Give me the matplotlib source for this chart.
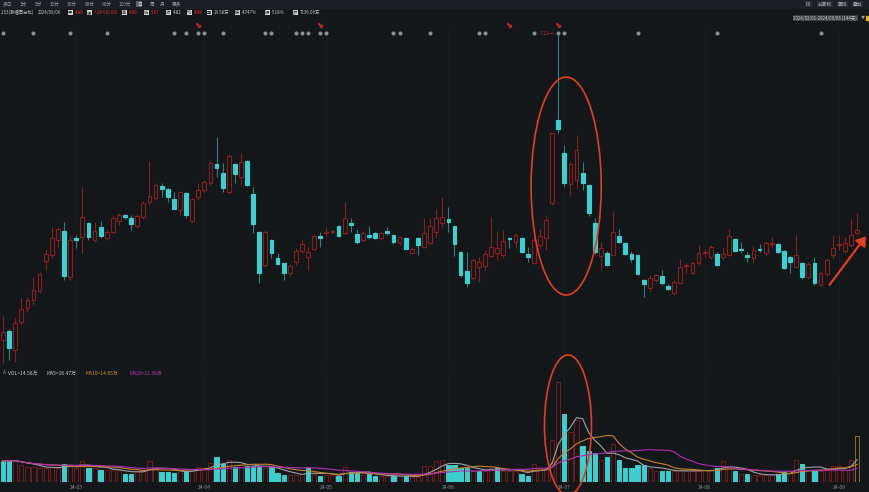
import matplotlib
matplotlib.use("Agg")
import matplotlib.pyplot as plt
from matplotlib.patches import Ellipse, FancyArrowPatch
import numpy as np
import pandas as pd

plt.rcParams['font.family'] = ['Noto Sans CJK SC', 'DejaVu Sans']

# daily candles (2024/02 - 2024/09)
opens = [4.10, 4.19, 4.00, 4.28, 4.42, 4.50, 4.59, 4.89, 4.95, 5.10,
         5.19, 4.73, 5.12, 5.13, 5.27, 5.10, 5.23, 5.12, 5.18, 5.29,
         5.35, 5.32, 5.24, 5.33, 5.48, 5.52, 5.64, 5.61, 5.51, 5.40,
         5.57, 5.29, 5.53, 5.60, 5.67, 5.86, 5.77, 5.58, 5.86, 5.73,
         5.89, 5.56, 5.18, 4.85, 5.10, 4.92, 4.87, 4.77, 4.88, 4.99,
         4.93, 5.01, 5.14, 5.17, 5.18, 5.24, 5.17, 5.27, 5.16, 5.10,
         5.15, 5.17, 5.12, 5.19, 5.15, 5.07, 5.12, 4.97, 5.12, 5.03,
         5.07, 5.18, 5.27, 5.31, 5.24, 4.98, 4.79, 4.72, 4.83, 4.84,
         4.94, 4.97, 4.95, 5.12, 5.08, 5.12, 4.96, 4.87, 5.05, 5.12,
         5.47, 6.30, 5.97, 5.66, 5.70, 5.77, 5.65, 5.27, 4.94, 4.97,
         4.95, 5.14, 5.07, 4.96, 4.95, 4.70, 4.62, 4.70, 4.74, 4.64,
         4.57, 4.67, 4.84, 4.77, 4.87, 4.97, 4.93, 4.96, 4.93, 4.95,
         5.11, 5.01, 4.95, 4.92, 5.01, 4.97, 5.06, 5.06, 4.99, 4.93,
         4.83, 4.87, 4.73, 4.87, 4.65, 4.76, 4.95, 5.05, 4.99, 5.05,
         5.17]
highs = [4.34, 4.21, 4.32, 4.52, 4.53, 4.73, 4.78, 5.01, 5.23, 5.23,
         5.28, 5.14, 5.15, 5.63, 5.28, 5.28, 5.29, 5.20, 5.34, 5.37,
         5.36, 5.35, 5.36, 5.49, 5.89, 5.67, 5.67, 5.62, 5.58, 5.59,
         5.58, 5.52, 5.67, 5.70, 5.90, 6.13, 5.87, 5.96, 5.87, 5.97,
         5.90, 5.63, 5.19, 5.20, 5.11, 4.97, 4.87, 4.86, 5.02, 5.10,
         5.03, 5.16, 5.18, 5.22, 5.20, 5.25, 5.48, 5.32, 5.21, 5.19,
         5.24, 5.18, 5.18, 5.23, 5.16, 5.14, 5.13, 5.03, 5.13, 5.32,
         5.32, 5.41, 5.53, 5.43, 5.25, 4.99, 4.98, 4.92, 4.93, 5.00,
         5.33, 5.18, 5.20, 5.13, 5.17, 5.13, 5.03, 5.12, 5.21, 5.35,
         6.17, 7.15, 6.05, 5.88, 6.15, 5.88, 5.66, 5.32, 5.08, 4.99,
         5.38, 5.21, 5.08, 4.99, 4.96, 4.71, 4.75, 4.76, 4.80, 4.66,
         4.70, 4.91, 4.87, 4.88, 5.05, 5.01, 5.05, 4.98, 5.03, 5.21,
         5.12, 5.08, 4.98, 5.04, 5.06, 5.09, 5.13, 5.07, 5.00, 4.94,
         5.15, 4.88, 4.88, 4.93, 4.79, 4.92, 5.15, 5.15, 5.13, 5.31,
         5.37]
lows = [3.87, 3.90, 3.88, 4.25, 4.38, 4.45, 4.57, 4.80, 4.92, 5.03,
        4.70, 4.70, 5.02, 4.97, 5.10, 5.08, 5.12, 5.10, 5.17, 5.25,
        5.31, 5.20, 5.22, 5.31, 5.45, 5.50, 5.53, 5.48, 5.40, 5.35,
        5.32, 5.28, 5.50, 5.58, 5.65, 5.73, 5.58, 5.56, 5.67, 5.64,
        5.64, 5.17, 4.67, 4.83, 4.92, 4.85, 4.70, 4.74, 4.85, 4.97,
        4.80, 5.00, 5.03, 5.13, 5.17, 5.13, 5.16, 5.18, 5.06, 5.08,
        5.11, 5.11, 5.10, 5.15, 5.06, 5.05, 5.00, 4.96, 4.95, 5.02,
        5.05, 5.13, 5.23, 5.18, 4.94, 4.73, 4.63, 4.70, 4.68, 4.80,
        4.93, 4.90, 4.92, 5.02, 5.02, 4.97, 4.88, 4.86, 5.02, 5.00,
        5.45, 6.17, 5.63, 5.55, 5.62, 5.60, 5.34, 4.96, 4.80, 4.84,
        4.94, 5.07, 4.95, 4.88, 4.75, 4.53, 4.58, 4.68, 4.65, 4.60,
        4.55, 4.66, 4.77, 4.76, 4.85, 4.93, 4.91, 4.84, 4.90, 4.94,
        4.98, 4.97, 4.88, 4.87, 4.98, 4.95, 5.03, 4.97, 4.81, 4.77,
        4.82, 4.71, 4.71, 4.65, 4.64, 4.74, 4.92, 5.00, 4.97, 5.03,
        5.14]
closes = [4.18, 4.02, 4.27, 4.41, 4.50, 4.60, 4.76, 4.96, 5.12, 5.21,
          4.74, 5.10, 5.10, 5.33, 5.13, 5.19, 5.14, 5.18, 5.32, 5.35,
          5.33, 5.26, 5.34, 5.47, 5.54, 5.65, 5.61, 5.53, 5.41, 5.58,
          5.35, 5.51, 5.60, 5.68, 5.87, 5.82, 5.62, 5.94, 5.76, 5.88,
          5.65, 5.26, 4.77, 5.18, 4.97, 4.86, 4.77, 4.84, 4.99, 5.06,
          4.98, 5.14, 5.12, 5.18, 5.19, 5.14, 5.32, 5.25, 5.08, 5.17,
          5.13, 5.12, 5.17, 5.17, 5.08, 5.13, 5.01, 5.01, 5.05, 5.17,
          5.24, 5.32, 5.33, 5.28, 5.06, 4.75, 4.67, 4.90, 4.88, 4.96,
          5.03, 5.02, 5.09, 5.11, 5.15, 4.98, 4.93, 5.10, 5.14, 5.30,
          6.17, 6.21, 5.67, 5.86, 6.00, 5.67, 5.37, 4.98, 5.02, 4.85,
          5.18, 5.08, 4.96, 4.91, 4.76, 4.66, 4.72, 4.75, 4.67, 4.61,
          4.68, 4.83, 4.85, 4.87, 4.97, 4.98, 5.03, 4.85, 4.96, 5.14,
          4.99, 5.00, 4.93, 5.00, 5.00, 5.07, 5.07, 4.98, 4.82, 4.88,
          4.95, 4.73, 4.86, 4.67, 4.77, 4.90, 5.02, 5.06, 5.07, 5.15,
          5.20]
prev_close0 = 4.25

# volume, 万手
vols = [6.3, 6.3, 6.6, 5.1, 4.5, 4.5, 4.2, 4.2, 4.5, 4.2,
        5.4, 5.1, 4.2, 6.3, 4.2, 4.2, 3.6, 3.6, 3.6, 3.6,
        2.4, 2.4, 3.3, 3.6, 6.3, 4.5, 3.0, 3.0, 2.7, 3.6,
        3.3, 3.6, 4.5, 4.2, 5.7, 7.5, 5.4, 6.6, 4.5, 5.1,
        4.8, 4.8, 4.8, 4.2, 4.5, 2.7, 2.1, 2.1, 2.1, 2.4,
        4.2, 2.4, 1.8, 2.1, 2.1, 1.8, 4.5, 3.0, 3.0, 2.1,
        2.4, 1.8, 1.8, 1.8, 1.8, 1.8, 1.8, 1.5, 1.5, 4.8,
        4.8, 6.3, 6.6, 5.1, 5.1, 4.2, 4.2, 3.3, 3.3, 3.3,
        4.2, 4.2, 3.3, 3.3, 3.3, 2.4, 1.8, 5.4, 4.2, 4.2,
        12.6, 30.0, 20.4, 15.0, 18.6, 10.8, 9.3, 8.7, 6.6, 7.5,
        11.4, 6.6, 4.2, 4.2, 5.1, 5.1, 4.2, 3.3, 3.3, 3.3,
        3.3, 3.6, 3.3, 3.3, 3.3, 3.6, 3.6, 4.2, 6.3, 4.8,
        3.3, 2.4, 2.4, 2.1, 2.1, 2.1, 2.1, 2.4, 3.0, 3.3,
        6.6, 5.4, 3.6, 3.6, 3.3, 3.6, 4.8, 4.8, 3.6, 6.6,
        13.8]

tick_idx = [12, 33, 53, 73, 92, 115, 137]
tick_labels = ['24-03', '24-04', '24-05', '24-06', '24-07', '24-08', '24-09']

# announcement markers on top row
event_idx = [0, 5, 11, 17, 28, 30, 32, 33, 36, 43, 44, 48, 49, 50, 52, 53,
             64, 65, 70, 78, 79, 87, 91, 92, 104, 117, 134]
notice_idx = [32, 52, 83, 91]

BG = '#14171a'
RED = '#861f20'
VRED = '#731c1c'
CYAN = '#3dcfcf'
CYAN_WICK = '#2a8286'
GRID = '#1a1d21'
ANNOT = '#e0401c'

o = np.array(opens)
h = np.array(highs)
l = np.array(lows)
c = np.array(closes)
idx = np.arange(len(c))
up = c >= o

fig = plt.figure(figsize=(8.7, 4.92), dpi=100, facecolor=BG)
ax = fig.add_axes([0, 0.258, 1, 0.685], facecolor=BG)
axv = fig.add_axes([0, 0.0203, 1, 0.2236], facecolor=BG)

for a in (ax, axv):
    a.set_xlim(-0.49, 142.1)
    for s in a.spines.values():
        s.set_visible(False)
    a.set_xticks([])
    a.set_yticks([])
    for t in tick_idx:
        a.axvline(t, color=GRID, lw=0.6, zorder=0)

# candles
ax.vlines(idx, l, h, colors=np.where(up, RED, CYAN_WICK), lw=0.8, zorder=2)
ax.bar(idx, np.maximum(np.abs(c - o), 0.012), bottom=np.minimum(o, c), width=0.62,
       color=np.where(up, BG, CYAN), edgecolor=np.where(up, RED, CYAN), lw=0.8, zorder=3)
ax.set_ylim(3.85, 7.22)

ax.text(91 - 0.6, 7.17, '7.12\u2192', color='#b0262a', fontsize=3.6, ha='right', va='center')

ax.plot(event_idx, [0.985] * len(event_idx), ls='none', marker='o', ms=1.9,
        color='#8c8f94', transform=ax.get_xaxis_transform(), clip_on=False)
ax.plot(notice_idx, [1.01] * len(notice_idx), ls='none', marker=r'$\searrow$', ms=2.8,
        color='#b0262a', transform=ax.get_xaxis_transform(), clip_on=False)

ax.add_patch(Ellipse((92.3, 5.64), 11.5, 2.18, fill=False, ec=ANNOT, lw=1.2, zorder=5))
ax.add_patch(FancyArrowPatch((135.2, 4.63), (141.7, 5.16), arrowstyle='-|>,head_length=2.6,head_width=1.8',
                             color=ANNOT, lw=1.6, mutation_scale=2, zorder=5))

# volume
prev = np.r_[prev_close0, c[:-1]]
vup = c >= prev
v = np.array(vols)
vedge = np.where(vup, VRED, CYAN).astype(object)
vedge[-1] = '#8a6a2c'
axv.bar(idx, v, width=0.7, color=np.where(vup, BG, CYAN), edgecolor=vedge, lw=0.7, zorder=2)
vs = pd.Series(v)
axv.plot(idx, vs.rolling(5, min_periods=1).mean(), color='#9fa2a7', lw=0.8, zorder=3)
axv.plot(idx, vs.rolling(10, min_periods=1).mean(), color='#c7812c', lw=0.8, zorder=3)
axv.plot(idx, vs.rolling(20, min_periods=1).mean(), color='#b12fb3', lw=0.8, zorder=3)
axv.set_ylim(0, 33)
axv.add_patch(Ellipse((92.6, 17.1), 7.7, 42, fill=False, ec=ANNOT, lw=1.2, zorder=5, clip_on=False))

fig.text(0.003, 1 - 373 / 492, 'A', color='#9a9da2', fontsize=3.6, va='center')
vol_lbls = [('VOL=14.58万', '#c8cacd', 8), ('MA5=16.47万', '#c8cacd', 47),
            ('MA10=14.65万', '#d08a2a', 86), ('MA20=12.36万', '#b23ab4', 130)]
for txt, col, px in vol_lbls:
    fig.text(px / 870, 1 - 373 / 492, txt, color=col, fontsize=3.6, va='center')

for t, lab in zip(tick_idx, tick_labels):
    axv.text(t, -0.03, lab, transform=axv.get_xaxis_transform(), color='#8c8f94',
             fontsize=3.6, ha='center', va='top', clip_on=False)

# toolbar / header chrome
fig.patches.append(plt.Rectangle((0, 1 - 8 / 492), 1, 8 / 492, transform=fig.transFigure,
                                 color='#1b1e22', zorder=0))
tools = ['多日', '1分', '5分', '15分', '30分', '60分', '90分', '120分', '日', '周', '月', '更多']
tool_x = [3, 20, 35, 50, 67, 85, 102, 119, 137, 150, 160, 172]
for txt, px in zip(tools, tool_x):
    sel = txt == '日'
    fig.text(px / 870, 1 - 4 / 492, txt, color='#e0e0e0' if sel else '#9a9da2', fontsize=3.4,
             va='center', bbox=dict(boxstyle='square,pad=0.15', fc='#5b6068' if sel else '#1b1e22', ec='none'))
for txt, px in [('F9', 806), ('前复权', 818), ('画线', 838), ('叠加', 853)]:
    fig.text(px / 870, 1 - 4 / 492, txt, color='#b0b3b8', fontsize=3.4, va='center',
             bbox=dict(boxstyle='square,pad=0.15', fc='#2a2d32', ec='none'))

info = [(None, '1.53(涨幅百分比)', '#c8cacd', 1), (None, '2024/09/06', '#c8cacd', 38),
        ('开', '4.88', '#e03030', 68), ('幅', '+.24%(0.06)', '#e03030', 87),
        ('高', '4.86', '#e03030', 122), ('低', '5.07', '#e03030', 144),
        ('收', '4.82', '#c8cacd', 166), ('均', '4.88', '#e03030', 187),
        ('量', '14.58万', '#c8cacd', 207), ('换', '4.747%', '#c8cacd', 235),
        ('振', '5.18%', '#c8cacd', 265), ('额', '7136.06万', '#c8cacd', 293)]
for box, val, col, px in info:
    y = 1 - 12.5 / 492
    if box:
        fig.text(px / 870, y, box, color='#202020', fontsize=3.0, va='center',
                 bbox=dict(boxstyle='square,pad=0.1', fc='#d8d8d8', ec='none'))
        px += 7
    fig.text(px / 870, y, val, color=col, fontsize=3.2, va='center')

fig.text(857 / 870, 1 - 18 / 492, '2024/02/01-2024/09/06 (144天)', color='#d0d2d5', fontsize=3.2,
         ha='right', va='center', bbox=dict(boxstyle='square,pad=0.15', fc='#3a3e44', ec='none'))
fig.text(861 / 870, 1 - 18 / 492, '\u25bc', color='#9a9da2', fontsize=3.0, va='center')
fig.patches.append(plt.Rectangle((866 / 870, 1 - 20 / 492), 4 / 870, 4 / 492,
                                 transform=fig.transFigure, color='#e0b020'))

fig.savefig('out.png', dpi=100, facecolor=BG)
